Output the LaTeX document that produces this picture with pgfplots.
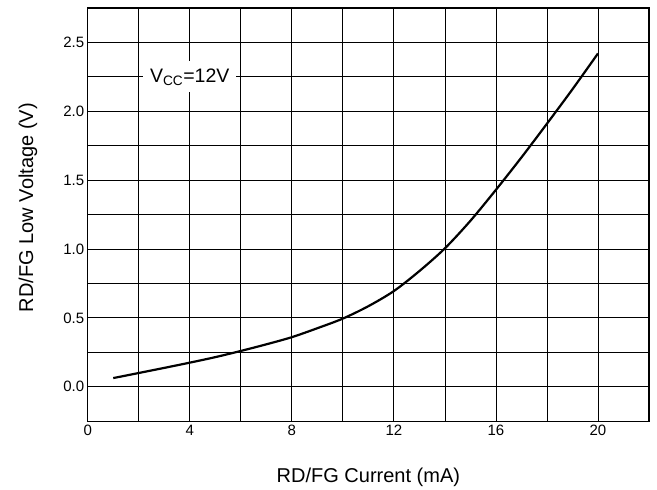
\documentclass[border=0pt]{standalone}
\usepackage{fontspec}
\setmainfont{Liberation Sans}
\usepackage{pgfplots}
\pgfplotsset{compat=1.18}
\begin{document}
\begin{tikzpicture}[font=\fontsize{15}{18}\selectfont]
\begin{axis}[
  scale only axis,
  width=561pt, height=413pt,
  xmin=0, xmax=22, ymin=-0.25, ymax=2.75,
  xtick={0,4,...,20},
  minor xtick={2,6,...,22},
  ytick={0,0.5,...,2.5},
  minor ytick={-0.25,0.25,...,2.75},
  grid=both,
  major grid style={black, line width=0.8pt},
  minor grid style={black, line width=0.8pt},
  axis line style={black, line width=1.2pt},
  major tick length=0pt, minor tick length=0pt,
  /pgf/number format/assume math mode=true,
  tick label style={font=\fontsize{15}{18}\selectfont},
  label style={font=\fontsize{20}{24}\selectfont},
  yticklabel style={/pgf/number format/fixed, /pgf/number format/precision=1, /pgf/number format/fixed zerofill},
  xlabel={RD/FG Current (mA)},
  ylabel={RD/FG Low Voltage (V)},
  xlabel style={at={(axis description cs:0.5,-0.1356)}, anchor=center},
  ylabel style={at={(axis description cs:-0.1064,0.517)}, anchor=center},
  clip=false,
]
\addplot[black, line width=2.2pt, smooth] coordinates {
 (1,0.063) (2,0.10) (3,0.137) (4,0.175) (5,0.215) (6,0.26) (7,0.308) (8,0.36) (9,0.425) (10,0.495) (11,0.585) (12,0.695) (13,0.84) (14,1.005) (15,1.205) (16,1.43) (17,1.665) (18,1.91) (19,2.16) (20,2.42)
};
\node[fill=white, inner xsep=7pt, inner ysep=7pt, font=\fontsize{19.5}{22}\selectfont] at (axis cs:4,2.25) {V\textsubscript{CC}=12V};
\end{axis}
\useasboundingbox (-87.7pt,-68pt) rectangle (569pt,421pt);
\end{tikzpicture}
\end{document}
